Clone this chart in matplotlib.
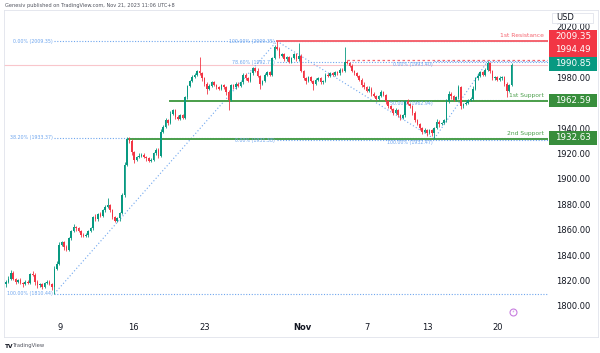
import numpy as np
import matplotlib
matplotlib.use("Agg")
import matplotlib.pyplot as plt
import matplotlib.transforms as mtransforms
from matplotlib.patches import Rectangle

# 4h XAUUSD candles, Oct 5 - Nov 21 2023 (index = candle number)
closes = [
    1820, 1822, 1827, 1822, 1820, 1821, 1819, 1818, 1820, 1819,
    1826, 1825, 1820, 1817, 1818, 1816, 1819, 1820, 1818, 1816,
    1830, 1834,
    1849, 1851, 1847, 1845, 1854, 1860, 1863, 1862, 1860, 1857,
    1856, 1857, 1860, 1862, 1871, 1869, 1873, 1872, 1876, 1879,
    1880, 1876, 1871, 1868, 1870, 1874, 1888, 1912, 1932, 1931,
    1922, 1916, 1918, 1919, 1920, 1918, 1917, 1915, 1916, 1921,
    1924, 1919, 1938, 1942, 1947, 1945, 1952, 1955, 1950, 1948,
    1951, 1949, 1965, 1974, 1978, 1981, 1983, 1986, 1984, 1980,
    1976, 1972, 1974, 1977, 1975, 1973, 1972, 1975, 1973, 1969,
    1963, 1975, 1973, 1976, 1974, 1977, 1983, 1980, 1978, 1984,
    1988, 1986, 1982, 1976, 1978, 1983, 1985, 1983, 1996, 2005,
    2003, 1998, 1999, 1995, 1997, 1993, 1996, 1999, 1995, 1998,
    1986, 1980, 1978, 1981, 1978, 1976, 1979, 1980, 1977, 1978,
    1983, 1982, 1984, 1983, 1985, 1984, 1987, 1986, 1993, 1992,
    1990, 1986, 1984, 1982, 1979, 1975, 1973, 1970, 1972, 1968,
    1966, 1964, 1966, 1969, 1967, 1962, 1958, 1956, 1953, 1955,
    1951, 1949, 1951, 1962, 1960, 1958, 1953, 1947, 1944, 1941,
    1938, 1939, 1937, 1939, 1937, 1941, 1946, 1944, 1945, 1947,
    1962, 1968, 1966, 1963, 1965, 1973, 1958, 1960, 1961, 1963,
    1964, 1972, 1980, 1982, 1985, 1983, 1987, 1992, 1986, 1980,
    1981, 1979, 1980, 1981, 1976, 1970, 1975, 1990.85,
]
first_open = 1818

upper_wick = [
    1, 2, 2, 1, 1, 1, 2, 1, 1, 1, 1, 2, 2, 1, 1, 1, 1, 1, 1, 1, 2, 2,
    2, 1, 1, 2, 1, 1, 2, 1, 1, 1, 1, 1, 1, 1, 1, 2, 1, 2, 1, 1, 6, 1, 1, 1, 1, 1, 2, 2, 2, 2,
    1, 1, 1, 2, 1, 1, 1, 1, 1, 1, 1, 1, 2, 1, 2, 1, 2, 1, 1, 1, 1, 1, 1, 1, 1, 2, 1, 1, 11, 1,
    1, 1, 2, 1, 1, 1, 1, 1, 1, 1, 2, 1, 1, 1, 1, 1, 1, 1, 1, 1, 1, 1, 2, 1, 1, 1, 1, 1, 1, 1,
    4.35, 2, 1, 1, 1, 1, 1, 1, 1, 10, 1, 1, 1, 1, 1, 1, 1, 1, 1, 1, 1, 1, 1, 1, 1, 1, 1, 1, 12, 1.49,
    1, 1, 1, 1, 1, 1, 2, 1, 2, 1, 1, 1, 1, 2, 1, 1, 1, 1, 1, 2, 1, 1, 1, 1, 2, 1, 1, 1, 1, 1,
    1, 2, 1, 1, 1, 1, 2, 1, 1, 1, 2, 2, 1, 1, 1, 2, 1, 1, 1, 1, 1, 2, 1, 2, 1, 1, 1, 1.4, 1, 1,
    1, 1, 2, 1, 1, 1, 1, 1,
]
lower_wick = [
    2, 1, 1, 1, 2, 1, 1, 2, 1, 1, 1, 1, 3, 2, 1, 2, 1, 1, 1, 3, 5.56, 1,
    1, 1, 2, 1, 1, 1, 1, 2, 1, 2, 1, 1, 2, 1, 1, 1, 1, 1, 1, 1, 1, 1, 2, 1, 1, 2, 1, 1, 1, 2,
    2, 3, 1, 1, 1, 1, 2, 1, 1, 1, 1, 2, 1, 1, 1, 2, 1, 1, 2, 1, 1, 1, 1, 1, 1, 1, 1, 1, 1, 2,
    2, 4, 1, 1, 1, 1, 1, 1, 1, 2, 8, 1, 1, 1, 1, 1, 1, 1, 1, 1, 1, 1, 1, 4, 1, 1, 1, 1, 1, 1,
    1, 2, 1, 1, 1, 1, 1, 1, 1, 1, 1, 1, 2, 1, 1, 5, 1, 1, 1, 1, 1, 1, 1, 1, 1, 1, 1, 1, 1, 1,
    1, 1, 1, 1, 1, 2, 1, 1, 1, 2, 1, 1, 1, 1, 1, 2, 1, 1, 2, 1, 1, 2, 1, 1, 1, 1, 2, 1, 1, 2,
    2, 1, 2, 1, 2, 4.53, 1, 2, 1, 1, 1, 1, 2, 1, 1, 1, 2, 1, 1, 1, 1, 1, 1, 1, 1, 1, 1, 1, 2, 1,
    1, 1, 1, 1, 2, 5, 1, 1,
]

day_pos = [22.3, 52.5, 82.2, 122.3, 149.2, 174.0, 203.3]
day_labels = ["9", "16", "23", "Nov", "7", "13", "20"]
price_ticks = [2020, 1980, 1940, 1920, 1900, 1880, 1860, 1840, 1820, 1800]

# fibonacci tools: (start index, levels, labels)
fib1_start = 20
fib1_levels = [2009.35, 1933.37, 1810.44]
fib1_labels = ["0.00% (2009.35)", "38.20% (1933.37)", "100.00% (1810.44)"]
fib2_start = 112
fib2_levels = [2009.35, 1992.71, 1931.38]
fib2_labels = ["100.00% (2009.35)", "78.60% (1992.71)", "0.00% (1931.38)"]
fib3_start = 177
fib3_levels = [1993.40, 1962.94, 1932.47]
fib3_labels = ["0.00% (1993.40)", "50.00% (1962.94)", "100.00% (1932.47)"]
trend_x = [(20, 112), (112, 177), (177, 199)]
trend_y = [(1810.44, 2009.35), (2009.35, 1932.47), (1932.47, 1993.40)]

resistance1 = 2009.35
resistance_dash = 1994.49
last_price = 1990.85
support1 = 1962.59
support2 = 1932.63

UP = "#089981"
DOWN = "#F23645"
FIB = "#6fa6ee"
RED_LINE = "#F5646F"
GREEN_LINE = "#4a9e4a"
GREEN_TAG = "#388E3C"
TXT = "#131722"


def fx(px):
    return px / 600


def fy(py):
    return 1 - py / 353


plt.rcParams["font.family"] = ["DejaVu Sans"]
fig = plt.figure(figsize=(6, 3.53), dpi=100)
fig.patch.set_facecolor("white")
ax = fig.add_axes([fx(4), fy(318), (548 - 4) / 600, (318 - 10) / 353])
ax.set_xlim(-0.8, 224.0)
ax.set_ylim(1791.3, 2033.9)
ax.axis("off")

closes_arr = np.array(closes, dtype=float)
opens = np.r_[first_open, closes_arr[:-1]]
idx = np.arange(len(closes_arr))
highs = np.maximum(opens, closes_arr) + np.array(upper_wick)
lows = np.minimum(opens, closes_arr) - np.array(lower_wick)
colors = np.where(closes_arr >= opens, UP, DOWN)

# reference lines behind candles
ax.axhline(last_price, color="#f9c6cb", lw=0.8, zorder=1)
for start, levels in [(fib1_start, fib1_levels), (fib2_start, fib2_levels), (fib3_start, fib3_levels)]:
    for lv in levels:
        ax.plot([start, 224], [lv, lv], color=FIB, lw=0.8, ls=(0, (1, 1.5)), zorder=1)
for (x0, x1), (y0, y1) in zip(trend_x, trend_y):
    ax.plot([x0, x1], [y0, y1], color=FIB, lw=0.8, ls=(0, (1, 2)), zorder=1)

ax.plot([112, 224], [resistance1] * 2, color=RED_LINE, lw=1.4, zorder=2)
ax.plot([141, 224], [resistance_dash] * 2, color=RED_LINE, lw=0.9, ls=(0, (2, 2)), zorder=2)
ax.plot([68, 224], [support1] * 2, color=GREEN_LINE, lw=1.4, zorder=2)
ax.plot([51, 224], [support2] * 2, color=GREEN_LINE, lw=1.4, zorder=2)

# candles
ax.vlines(idx, lows, highs, colors=colors, lw=0.6, zorder=3)
body = np.maximum(np.abs(closes_arr - opens), 0.4)
ax.bar(idx, body, bottom=np.minimum(opens, closes_arr), width=0.66, color=colors, lw=0, zorder=4)

# fib labels
fs_fib = 3.4
for lv, lab in zip(fib1_levels, fib1_labels):
    ax.text(fib1_start - 0.8, lv, lab, fontsize=fs_fib, color=FIB, ha="right", va="center")
for lv, lab in zip(fib2_levels, fib2_labels):
    ax.text(fib2_start - 0.8, lv - 0.5, lab, fontsize=fs_fib, color=FIB, ha="right", va="center")
for lv, lab in zip(fib3_levels, fib3_labels):
    ax.text(fib3_start - 0.8, lv - 2.8, lab, fontsize=fs_fib, color=FIB, ha="right", va="center")

# level names
ax.text(222.5, resistance1 + 2.2, "1st Resistance", fontsize=4.3, color=RED_LINE, ha="right", va="bottom")
ax.text(222.5, support1 + 2.0, "1st Support", fontsize=4.3, color=GREEN_LINE, ha="right", va="bottom")
ax.text(222.5, support2 + 2.0, "2nd Support", fontsize=4.3, color=GREEN_LINE, ha="right", va="bottom")

# purple event marker
ax.plot([209.5], [1796], marker="o", ms=5, mfc="white", mec="#c77ddf", mew=0.8, clip_on=False, zorder=5)
ax.text(209.5, 1796, "\u26a1", fontsize=3, color="#c77ddf", ha="center", va="center", zorder=6)

# time axis labels
tx = mtransforms.blended_transform_factory(ax.transData, fig.transFigure)
for p, lab in zip(day_pos, day_labels):
    ax.text(p, fy(327), lab, transform=tx, fontsize=6, color=TXT, ha="center", va="center",
            fontweight="bold" if lab == "Nov" else "normal", clip_on=False)

# price axis labels
ty = mtransforms.blended_transform_factory(fig.transFigure, ax.transData)
for v in price_ticks:
    ax.text(fx(556), v, f"{v:.2f}", transform=ty, fontsize=6, color=TXT, ha="left", va="center", clip_on=False)

# price tags
tags = [
    (30, 43, "2009.35", DOWN),
    (43, 57, "1994.49", DOWN),
    (57, 71, "1990.85", UP),
    (94, 107, "1962.59", GREEN_TAG),
    (131, 145, "1932.63", GREEN_TAG),
]
for y0, y1, lab, col in tags:
    fig.patches.append(Rectangle((fx(549), fy(y1)), fx(48), (y1 - y0) / 353,
                                 transform=fig.transFigure, facecolor=col, edgecolor="none", zorder=5))
    fig.text(fx(573), fy((y0 + y1) / 2), lab, fontsize=6.3, color="white", ha="center", va="center", zorder=6)

# USD box
fig.patches.append(Rectangle((fx(552), fy(23)), fx(41), 10 / 353, transform=fig.transFigure,
                             facecolor="white", edgecolor="#e0e3eb", lw=0.6))
fig.text(fx(556), fy(17.5), "USD", fontsize=6, color=TXT, ha="left", va="center")

# frame
frame = "#e0e3eb"
fig.add_artist(plt.Line2D([fx(4), fx(598)], [fy(10), fy(10)], color=frame, lw=0.6, transform=fig.transFigure))
fig.add_artist(plt.Line2D([fx(4), fx(598)], [fy(337), fy(337)], color=frame, lw=0.6, transform=fig.transFigure))
fig.add_artist(plt.Line2D([fx(4), fx(4)], [fy(10), fy(337)], color=frame, lw=0.6, transform=fig.transFigure))
fig.add_artist(plt.Line2D([fx(598), fx(598)], [fy(10), fy(337)], color=frame, lw=0.6, transform=fig.transFigure))

# header and footer
fig.text(fx(5), fy(5), "Genesiv published on TradingView.com, Nov 21, 2023 11:06 UTC+8",
         fontsize=3.6, color="#50535e", ha="left", va="center")
fig.text(fx(5), fy(346), "TV", fontsize=4.2, color=TXT, fontweight="bold", ha="left", va="center")
fig.text(fx(13), fy(346), "TradingView", fontsize=3.8, color="#50535e", ha="left", va="center")

fig.savefig("out.png", dpi=100)
